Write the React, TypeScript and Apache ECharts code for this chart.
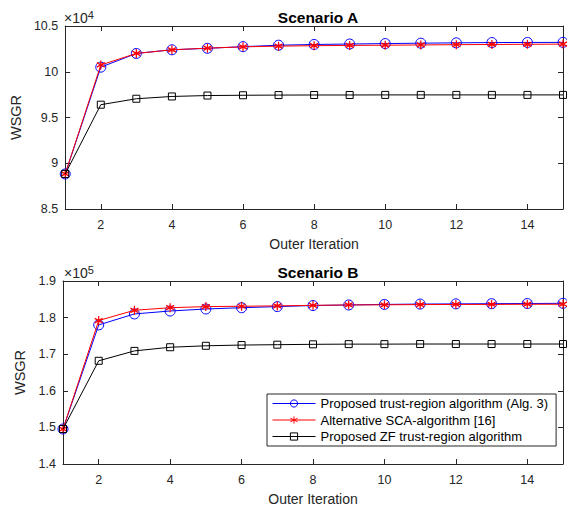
import React, { useEffect, useRef } from "react";
import * as echarts from "echarts";

const iterations = [1, 2, 3, 4, 5, 6, 7, 8, 9, 10, 11, 12, 13, 14, 15];
const xTicks = [2, 4, 6, 8, 10, 12, 14];

const aTrust = [88830, 100500, 102000, 102400, 102560, 102740, 102900, 102980, 103030, 103080, 103120, 103160, 103190, 103200, 103210];
const aSca = [88830, 100740, 102000, 102400, 102580, 102720, 102800, 102850, 102880, 102900, 102930, 102960, 102980, 103000, 103020];
const aZf = [88830, 96400, 97050, 97300, 97400, 97430, 97450, 97460, 97460, 97470, 97470, 97470, 97470, 97470, 97470];

const bTrust = [149560, 178000, 181000, 181800, 182350, 182700, 183000, 183300, 183450, 183600, 183700, 183750, 183800, 183850, 183900];
const bSca = [149560, 179200, 182000, 182700, 183000, 183100, 183200, 183350, 183450, 183500, 183550, 183600, 183600, 183650, 183650];
const bZf = [149560, 168200, 170900, 171900, 172300, 172500, 172600, 172700, 172750, 172750, 172780, 172780, 172780, 172780, 172780];

const names = [
  "Proposed trust-region algorithm (Alg. 3)",
  "Alternative SCA-algorithm [16]",
  "Proposed ZF trust-region algorithm",
];

const FONT = "Liberation Sans";
const AX = "#262626";
const STAR = "path://M0,-5L0,5M-4.33,-2.5L4.33,2.5M-4.33,2.5L4.33,-2.5";

export default function App() {
  const ref = useRef<HTMLDivElement>(null);
  useEffect(() => {
    const chart = echarts.init(ref.current!, null, { renderer: "svg" });
    const pair = (a: number[]) => iterations.map((x, i) => [x, a[i]]);

    const xAxisBase = (gridIndex: number, pos: "bottom" | "top") => ({
      type: "value",
      gridIndex,
      position: pos,
      min: 1,
      max: 15,
      axisLine: { show: true, lineStyle: { color: AX, width: 1 } },
      axisTick: { show: true, inside: true, length: 5, customValues: xTicks, lineStyle: { color: AX } },
      axisLabel: pos === "bottom"
        ? { show: true, customValues: xTicks, color: AX, fontSize: 12.5, fontFamily: FONT, margin: 9 }
        : { show: false },
      splitLine: { show: false },
      name: pos === "bottom" ? "Outer Iteration" : "",
      nameLocation: "middle",
      nameGap: 28,
      nameTextStyle: { color: AX, fontSize: 14, fontFamily: FONT },
    });

    const yAxisBase = (gridIndex: number, pos: "left" | "right", min: number, max: number, interval: number, scale: number) => ({
      type: "value",
      gridIndex,
      position: pos,
      min,
      max,
      interval,
      axisLine: { show: true, lineStyle: { color: AX, width: 1 } },
      axisTick: { show: true, inside: true, length: 5, lineStyle: { color: AX } },
      axisLabel: pos === "left"
        ? {
            show: true, color: AX, fontSize: 12.5, fontFamily: FONT, margin: 7,
            formatter: (v: number) => String(Math.round((v / scale) * 10) / 10),
          }
        : { show: false },
      splitLine: { show: false },
      name: pos === "left" ? "WSGR" : "",
      nameLocation: "middle",
      nameGap: 36,
      nameTextStyle: { color: AX, fontSize: 14.5, fontFamily: FONT },
    });

    const mk = (idx: number, name: string, data: number[], kind: number) => {
      const colors = ["#0000ff", "#ff0000", "#000000"];
      const c = colors[kind];
      return {
        type: "line",
        name,
        xAxisIndex: idx * 2,
        yAxisIndex: idx * 2,
        data: pair(data),
        symbol: kind === 0 ? "circle" : kind === 1 ? STAR : "rect",
        symbolSize: kind === 0 ? 10 : kind === 1 ? [8, 9] : 7,
        lineStyle: { color: c, width: 1 },
        itemStyle: { color: kind === 1 ? c : "none", borderColor: c, borderWidth: kind === 1 ? 1.3 : 1 },
        emphasis: { disabled: true },
        z: 2 + kind,
      };
    };

    const supStyle = (txt: string) => ({
      text: "×10{s|" + txt + "}",
      rich: { s: { fontSize: 11, verticalAlign: "top", padding: [0, 0, 6, 0], fill: AX, fontFamily: FONT } },
      fontSize: 14,
      fill: AX,
      fontFamily: FONT,
    });

    chart.setOption({
      animation: false,
      backgroundColor: "#ffffff",
      title: [
        { text: "Scenario A", left: 313, top: 4, textAlign: "center", textStyle: { fontSize: 15.5, fontWeight: "bold", color: "#000", fontFamily: FONT } },
        { text: "Scenario B", left: 313, top: 259, textAlign: "center", textStyle: { fontSize: 15.5, fontWeight: "bold", color: "#000", fontFamily: FONT } },
      ],
      grid: [
        { left: 63, top: 26, width: 500, height: 183 },
        { left: 63, top: 281, width: 500, height: 183 },
      ],
      xAxis: [xAxisBase(0, "bottom"), xAxisBase(0, "top"), xAxisBase(1, "bottom"), xAxisBase(1, "top")],
      yAxis: [
        yAxisBase(0, "left", 85000, 105000, 5000, 10000),
        yAxisBase(0, "right", 85000, 105000, 5000, 10000),
        yAxisBase(1, "left", 140000, 190000, 10000, 100000),
        yAxisBase(1, "right", 140000, 190000, 10000, 100000),
      ],
      legend: {
        data: names,
        orient: "vertical",
        left: 267,
        top: 394,
        width: 291,
        padding: [3, 8, 3, 5],
        itemWidth: 43,
        itemHeight: 9,
        itemGap: 3.5,
        backgroundColor: "#ffffff",
        borderColor: AX,
        borderWidth: 1,
        borderRadius: 0,
        lineStyle: { width: 1 },
        itemStyle: { borderWidth: 1 },
        textStyle: { color: "#000", fontSize: 13, fontFamily: FONT },
        selectedMode: false,
      },
      graphic: [
        { type: "text", left: 64, top: 9, style: supStyle("4") },
        { type: "text", left: 64, top: 264, style: supStyle("5") },
      ],
      series: [
        mk(0, names[0], aTrust, 0),
        mk(0, names[1], aSca, 1),
        mk(0, names[2], aZf, 2),
        mk(1, names[0], bTrust, 0),
        mk(1, names[1], bSca, 1),
        mk(1, names[2], bZf, 2),
      ],
    });
    return () => chart.dispose();
  }, []);
  return <div ref={ref} style={{ width: 567, height: 510, position: "absolute", left: 0, top: 0 }} />;
}
